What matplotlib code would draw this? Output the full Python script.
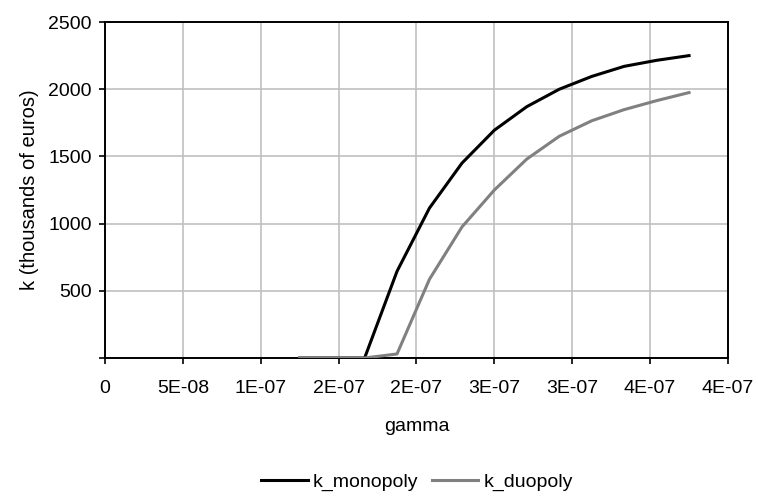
import matplotlib.pyplot as plt
from matplotlib.ticker import FixedLocator, FixedFormatter, FuncFormatter

plt.rcParams['font.family'] = ['Liberation Sans', 'DejaVu Sans']

# data
gamma = [1.25e-7, 1.458e-7, 1.667e-7, 1.875e-7, 2.083e-7, 2.292e-7, 2.5e-7,
         2.708e-7, 2.917e-7, 3.125e-7, 3.333e-7, 3.542e-7, 3.75e-7]
k_monopoly = [0, 0, 0, 645, 1115, 1450, 1695, 1870, 2000, 2095, 2170, 2215, 2250]
k_duopoly = [0, 0, 0, 30, 585, 975, 1250, 1480, 1650, 1765, 1848, 1915, 1975]

x_ticks = [0, 5e-8, 1e-7, 1.5e-7, 2e-7, 2.5e-7, 3e-7, 3.5e-7, 4e-7]
x_labels = ['0', '5E-08', '1E-07', '2E-07', '2E-07', '3E-07', '3E-07', '4E-07', '4E-07']
y_ticks = [0, 500, 1000, 1500, 2000, 2500]

fig = plt.figure(figsize=(7.58, 4.97), dpi=100)
ax = fig.add_axes([0.1385, 0.2797, 0.8219, 0.676])

ax.plot(gamma, k_monopoly, color='black', lw=2.2, label='k_monopoly', zorder=3)
ax.plot(gamma, k_duopoly, color='#808080', lw=2.2, label='k_duopoly', zorder=3)

ax.set_xlim(0, 4e-7)
ax.set_ylim(0, 2500)
ax.xaxis.set_major_locator(FixedLocator(x_ticks))
ax.xaxis.set_major_formatter(FixedFormatter(x_labels))
ax.yaxis.set_major_locator(FixedLocator(y_ticks))
ax.yaxis.set_major_formatter(FuncFormatter(lambda v, p: '' if v == 0 else '%d' % v))

ax.grid(color='#c0c0c0', lw=1.2)
ax.set_axisbelow(True)
for s in ax.spines.values():
    s.set_color('black')
    s.set_linewidth(1.4)
ax.tick_params(direction='out', length=4.5, width=1.2, labelsize=14)
ax.tick_params(axis='x', pad=11.5)
ax.tick_params(axis='y', pad=5)

ax.set_xlabel('gamma', fontsize=14, labelpad=15)
ax.set_ylabel('k (thousands of euros)', fontsize=14.5, labelpad=7)

fig.legend(loc='center', bbox_to_anchor=(0.55, 0.030), ncol=2, frameon=False,
           fontsize=14, handlelength=2.4, handletextpad=0.25, columnspacing=0.7)

plt.savefig('out.png', dpi=100)
